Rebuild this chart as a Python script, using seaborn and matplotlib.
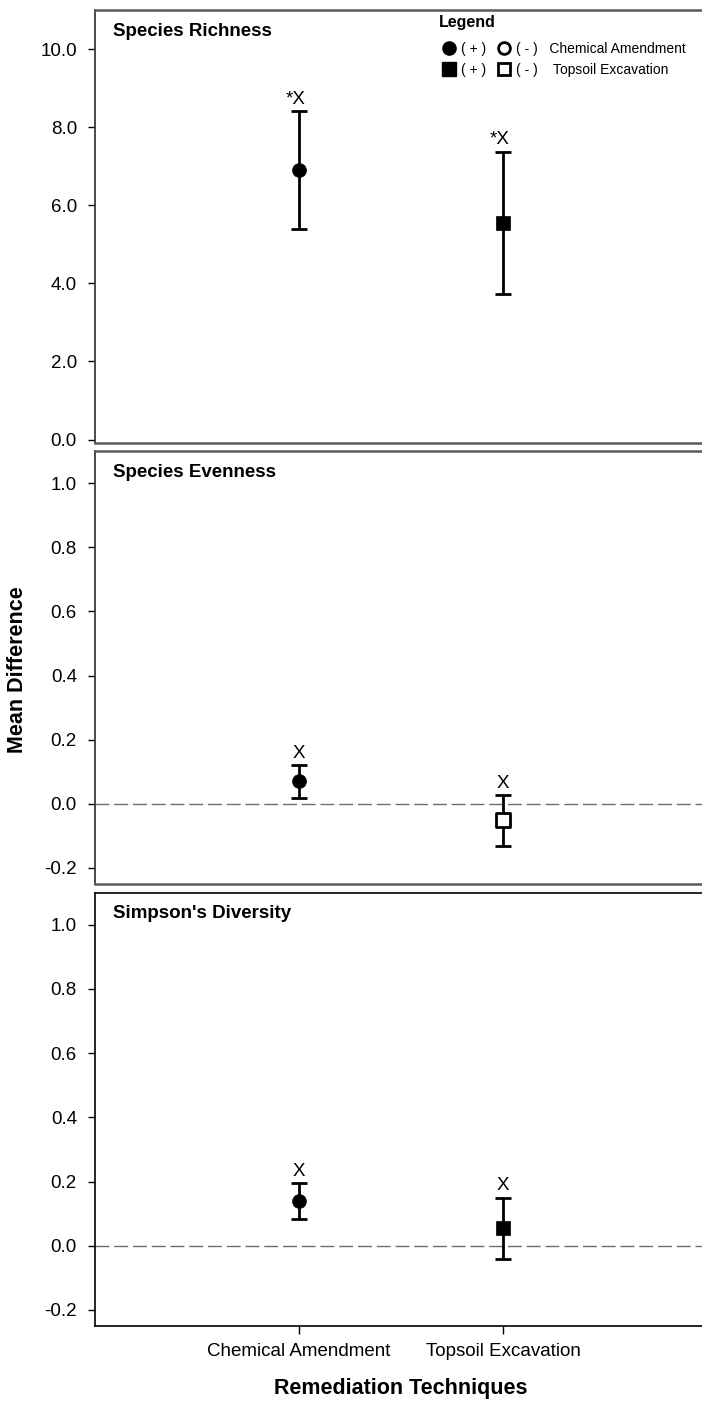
import numpy as np
import pandas as pd
import matplotlib
matplotlib.use('Agg')
import matplotlib.pyplot as plt
from matplotlib.lines import Line2D
import seaborn as sns

# Data
techniques = ['Chemical Amendment', 'Topsoil Excavation']
markers = ['o', 's']

richness_mean = [6.90, 5.54]
richness_low = [5.38, 3.72]
richness_high = [8.41, 7.37]
richness_filled = [True, True]
richness_labels = ['*X', '*X']

evenness_mean = [0.071, -0.052]
evenness_low = [0.019, -0.130]
evenness_high = [0.120, 0.026]
evenness_filled = [True, False]
evenness_labels = ['X', 'X']

simpson_mean = [0.138, 0.055]
simpson_low = [0.082, -0.040]
simpson_high = [0.194, 0.149]
simpson_filled = [True, True]
simpson_labels = ['X', 'X']

panels = [
    ('Species Richness', richness_mean, richness_low, richness_high, richness_filled, richness_labels),
    ("Species Evenness", evenness_mean, evenness_low, evenness_high, evenness_filled, evenness_labels),
    ("Simpson's Diversity", simpson_mean, simpson_low, simpson_high, simpson_filled, simpson_labels),
]

sns.set_style('white')
plt.rcParams['font.family'] = ['Liberation Sans', 'DejaVu Sans']
plt.rcParams['text.color'] = 'black'
plt.rcParams['axes.labelcolor'] = 'black'
plt.rcParams['xtick.color'] = 'black'
plt.rcParams['ytick.color'] = 'black'

W, H = 702, 1402
fig = plt.figure(figsize=(W / 100, H / 100), dpi=100)

# axes boxes in pixels: (top, bottom)
boxes = [(10, 443.5), (451, 884), (892.7, 1326)]
left_px, right_px = 95, 707

axes = []
for i, (name, mean, low, high, filled, labels) in enumerate(panels):
    top, bot = boxes[i]
    ax = fig.add_axes([left_px / W, 1 - bot / H, (right_px - left_px) / W, (bot - top) / H])
    axes.append(ax)
    df = pd.DataFrame({'technique': techniques, 'mean': mean, 'low': low,
                       'high': high, 'filled': filled, 'label': labels})

    if i > 0:
        ax.axhline(0, color='#6e6e6e', lw=1.0, dashes=(10, 3.5), zorder=1)

    ax.errorbar(df['technique'], df['mean'],
                yerr=[df['mean'] - df['low'], df['high'] - df['mean']],
                fmt='none', ecolor='black', elinewidth=2, capsize=5.5, capthick=2, zorder=2)

    for j, row in df.iterrows():
        sns.scatterplot(data=df.iloc[[j]], x='technique', y='mean', ax=ax,
                        marker=markers[j], s=100 if markers[j] == 'o' else 95,
                        color='black' if row['filled'] else 'white',
                        edgecolor='black', linewidth=2 if not row['filled'] else 0.5,
                        zorder=3, legend=False)
        if row['label'].startswith('*'):
            ax.annotate(row['label'], (row['technique'], row['high']), xytext=(5, 2.5),
                        textcoords='offset points', ha='right', va='bottom', fontsize=13.5)
        else:
            ax.annotate(row['label'], (row['technique'], row['high']), xytext=(0, 2.5),
                        textcoords='offset points', ha='center', va='bottom', fontsize=13.5)

    ax.set_xlim(-1, 2)
    if i == 0:
        ticks = np.arange(0, 10.1, 2)
        ax.set_ylim(-0.1, 11.0)
    else:
        ticks = np.round(np.arange(-0.2, 1.01, 0.2), 1)
        ax.set_ylim(-0.25, 1.10)
    ax.set_yticks(ticks)
    ax.set_yticklabels([f'{v:.1f}' for v in ticks + 0.0])
    ax.set_xlabel('')
    ax.set_ylabel('')
    ax.tick_params(axis='y', direction='out', length=5, width=1, labelsize=13.5, left=True, pad=8)

    if i < 2:
        ax.set_xticks([])
        for s in ['top', 'bottom', 'right']:
            ax.spines[s].set_color('#5a5a5a')
            ax.spines[s].set_linewidth(1.8)
        ax.spines['left'].set_color('#3a3a3a')
        ax.spines['left'].set_linewidth(1.3)
    else:
        ax.tick_params(axis='x', direction='out', length=6, width=1, labelsize=13.5, bottom=True, pad=6)
        for s in ax.spines.values():
            s.set_color('black')
            s.set_linewidth(1.2)
        ax.set_xlabel('Remediation Techniques', fontsize=15.5, fontweight='bold', labelpad=13)

    ax.text(18 / (right_px - left_px), 1 - 21 / (bot - top), name, transform=ax.transAxes,
            fontsize=13.5, fontweight='bold', ha='left', va='center')

# legend in top panel
handles = [
    Line2D([], [], ls='none', marker='o', ms=9.5, mfc='black', mec='black'),
    Line2D([], [], ls='none', marker='s', ms=9.5, mfc='black', mec='black'),
    Line2D([], [], ls='none', marker='o', ms=8.5, mfc='white', mec='black', mew=2),
    Line2D([], [], ls='none', marker='s', ms=8.5, mfc='white', mec='black', mew=2),
]
leg_labels = ['( + )', '( + )', '( - )   Chemical Amendment', '( - )    Topsoil Excavation']
axes[0].legend(handles, leg_labels, ncol=2, loc='upper left',
               bbox_to_anchor=(442 / W, 1 - 42 / H), bbox_transform=fig.transFigure,
               frameon=False, fontsize=10, handlelength=1.0, handletextpad=0.4,
               columnspacing=0.75, labelspacing=0.5, borderpad=0, borderaxespad=0)
fig.text(439 / W, 1 - 23 / H, 'Legend', fontsize=11.5, fontweight='bold', ha='left', va='center')

fig.text(18 / W, 1 - 670 / H, 'Mean Difference', rotation=90, ha='center', va='center',
         fontsize=15.5, fontweight='bold')

plt.savefig('out.png', dpi=100)
